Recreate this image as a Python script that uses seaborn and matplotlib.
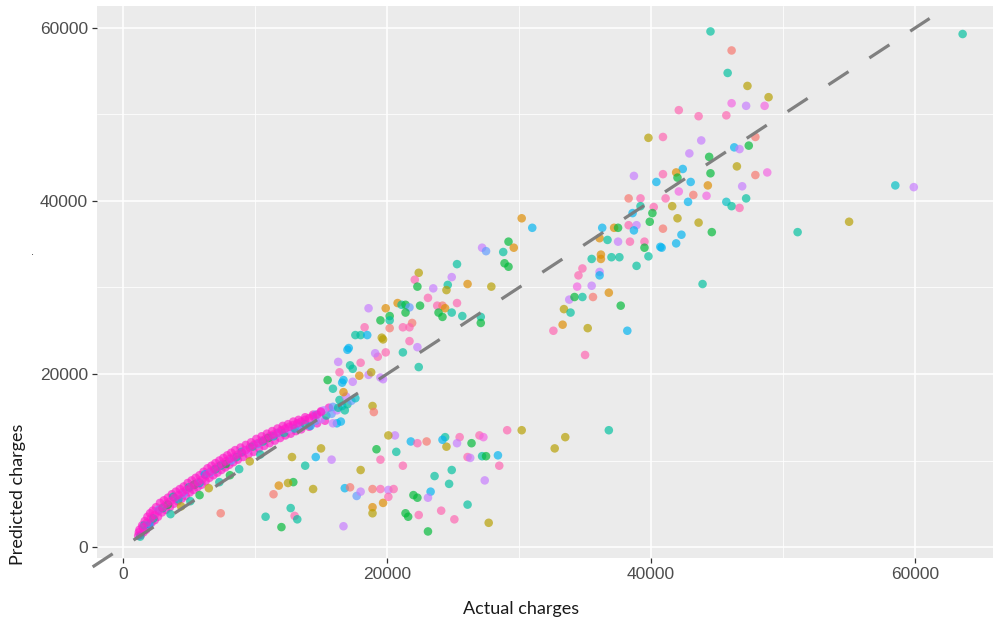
import pandas as pd
import matplotlib
matplotlib.use("Agg")
import matplotlib.pyplot as plt
import seaborn as sns

# --- data (actual vs predicted charges) ---

# dense band, mixed colours
band_mix_actual = [1300, 1600, 2000, 2300, 2700, 3000, 3400, 3800, 4200, 4600,
                   5000, 5400, 5800, 6200, 6600, 7000, 7400, 7800, 8200, 8600,
                   9000, 9400, 9800, 10200, 10600, 11000, 11400, 11800, 12200, 12600,
                   13000, 13400, 13800, 14200, 14600, 15000, 15400, 15800, 16200, 16600,
                   17000, 17300, 16400, 16900, 17600, 15900, 15200, 14600,
                   3600, 4400, 5100, 5800, 6500, 7300, 8100, 8800, 9600, 10400]
band_mix_predicted = [1200, 2500, 2600, 3300, 4300, 4500, 4900, 5800, 5500, 6200,
                      6900, 7200, 7400, 8400, 8600, 9000, 9400, 9600, 10000, 10400,
                      11000, 11200, 11600, 11900, 12200, 12600, 12800, 13200, 13200, 13600,
                      13700, 14000, 14200, 14000, 14600, 14800, 15200, 15400, 15800, 16300,
                      16500, 16900, 17000, 17400, 17200, 16200, 15800, 15300,
                      3800, 4700, 5300, 6000, 6800, 7500, 8300, 9000, 9900, 10700]
band_mix_group = [5, 6, 7, 5, 8, 5, 4, 5, 6, 8,
                  5, 4, 6, 7, 8, 5, 5, 4, 8, 5,
                  6, 9, 5, 8, 5, 4, 6, 8, 5, 9,
                  6, 8, 5, 7, 8, 9, 5, 8, 9, 7,
                  5, 8, 5, 9, 6, 8, 9, 8,
                  5, 2, 5, 4, 2, 5, 4, 5, 2, 5]

# dense band, hot pink: upper / lower edges
band_pink_actual = [1150, 1250, 1350, 1450, 1550, 1650, 1750, 1850, 1950, 2050,
                    2150, 2250, 2400, 2500, 2650, 2800, 2950, 3100, 3250, 3400,
                    3550, 3700, 3850, 4000, 4150, 4300, 4450, 4600, 4750, 4900,
                    5050, 5200, 5350, 5500, 5650, 5800, 5950, 6100, 6250, 6400,
                    6550, 6700, 6850, 7000, 7150, 7300, 7450, 7600, 7750, 7900,
                    8050, 8200, 8350, 8500, 8700, 8900, 9100, 9300, 9500, 9700,
                    9900, 10100, 10300, 10500, 10700, 10900, 11100, 11300, 11500, 11700,
                    11900, 12100, 12300, 12500, 12700, 12900, 13100, 13300, 13500, 13800,
                    14100, 14400, 14700, 15000, 15300, 15600]
band_pink_predicted = [1300, 2000, 1400, 2500, 1700, 3000, 2000, 3500, 2400, 3900,
                       2800, 4200, 3100, 4600, 3500, 5100, 4000, 5400, 4300, 5700,
                       4600, 6100, 5000, 6400, 5300, 6700, 5600, 7000, 5900, 7400,
                       6300, 7700, 6600, 8000, 6900, 8300, 7200, 8700, 7600, 9100,
                       8000, 9400, 8300, 9700, 8600, 10000, 8900, 10300, 9200, 10600,
                       9500, 10900, 9800, 11200, 10100, 11500, 10400, 11800, 10700, 12100,
                       11000, 12500, 11400, 12800, 11700, 13100, 12000, 13400, 12300, 13700,
                       12600, 14000, 12900, 14200, 13100, 14500, 13400, 14700, 13600, 15000,
                       13900, 15300, 14300, 15700, 14600, 16100]

# dense band, hot pink: centre row
band_core_actual = [1200, 1500, 1800, 2100, 2400, 2700, 3000, 3300, 3600, 3900,
                    4200, 4500, 4800, 5100, 5400, 5700, 6000, 6300, 6600, 6900,
                    7200, 7500, 7800, 8100, 8400, 8700, 9000, 9300, 9600, 9900,
                    10200, 10500, 10800, 11100, 11400, 11700, 12000, 12300, 12600, 12900,
                    13200, 13500, 13800, 14100, 14400, 14700, 15000]
band_core_predicted = [1700, 2300, 2800, 3300, 3700, 4200, 4600, 5000, 5300, 5700,
                       6000, 6300, 6600, 6900, 7200, 7500, 7800, 8300, 8700, 9000,
                       9300, 9600, 9900, 10200, 10400, 10700, 10900, 11200, 11500, 11800,
                       12000, 12300, 12500, 12800, 13000, 13200, 13500, 13700, 13900, 14100,
                       14300, 14500, 14700, 14900, 15100, 15300, 15600]

# scattered points
spread_actual = [44500, 46100, 45800, 47300, 48900, 46100, 47200, 48600, 42100, 43600,
                 45700, 63600, 58500, 59900, 51100, 55000, 43900, 40900, 43800, 42900,
                 46300, 46700, 47400, 44400, 44500, 46500, 42400, 41900, 40900, 43000,
                 44300, 47900, 48800, 46900, 47200, 45700, 46100, 46700, 43200, 44200,
                 42100, 41100, 41600, 42800, 42000, 43600, 44600, 40900, 42300, 41900,
                 40800, 39800, 47900, 38700, 40400, 42000, 38300, 39200, 40200, 38600,
                 39200, 40100, 39900, 38300, 38900, 38700, 40700, 39800, 39500, 39500,
                 36300, 37200, 37500, 36100, 36700, 37500, 38400, 36200, 36200, 35500,
                 37000, 37600, 38900, 36100, 36100, 34800, 34500, 34400, 35500, 33800,
                 34200, 34800, 35600, 36800, 37700, 33400, 33900, 32600, 33300, 35200,
                 38200, 35000, 36800, 33500, 32700, 30200, 31000, 27200, 27500, 29200,
                 29600, 28800, 28900, 29200, 25300, 22400, 22100, 22300, 23500, 24600,
                 24500, 24900, 26100, 27900, 25300, 23100, 23800, 22500, 20800, 21100,
                 21400, 21700, 19900, 24200, 24400, 24900, 23900, 24200, 20200, 20200,
                 21400, 25700, 27100, 27100, 21900, 21700, 21200, 20200, 19700, 21700,
                 21200, 19900, 22300, 22400, 19700, 18600, 19500, 18300, 17600, 18000,
                 18500, 19600, 19300, 17100, 17000, 19100, 16300, 16400, 17200, 17400,
                 18000, 17900, 18600, 18800, 16700, 15500, 15900, 16700, 17400, 19500,
                 20600, 21800, 23000, 24400, 25500, 27000, 27300, 26400, 25300, 24500,
                 27200, 28400, 28500, 26100, 23600, 24700, 24900, 27400, 21200, 20700,
                 22000, 23300, 18900, 19000, 20100, 22300, 24200, 29100, 30200, 19200,
                 19500, 18000, 26300, 27500, 22300, 23100, 26100, 18900, 18900, 19700,
                 16800, 17200, 17700, 18000, 18900, 19500, 20100, 20500, 20100, 21400,
                 21600, 22400, 24100, 25100, 23100, 27700, 16700, 15000, 14600, 13800,
                 15800, 12800, 14400, 12900, 12500, 11800, 11400, 12700, 13000, 13200,
                 10800, 12000, 7400, 16200, 16500, 16300, 16800, 16600, 15900]
spread_predicted = [59600, 57400, 54800, 53300, 52000, 51300, 51000, 51000, 50500, 49800,
                    49900, 59300, 41800, 41600, 36400, 37600, 30400, 47400, 47000, 45500,
                    46200, 46000, 46400, 45100, 43200, 44000, 43700, 43300, 43100, 42200,
                    41800, 43000, 43300, 41700, 40300, 39900, 39400, 39200, 40700, 40600,
                    41100, 40300, 39400, 39900, 38000, 37500, 36400, 36800, 36100, 35100,
                    34600, 47300, 47400, 42900, 42200, 42700, 40300, 40300, 39300, 38600,
                    39400, 38600, 37600, 37200, 37200, 36600, 34700, 33600, 35300, 34600,
                    36900, 36900, 36900, 35700, 35500, 35300, 35300, 33800, 33300, 33300,
                    33500, 33500, 32500, 31800, 31400, 32200, 31400, 30100, 30200, 28600,
                    28900, 28900, 28900, 29400, 27900, 27500, 27100, 25000, 25700, 25300,
                    25000, 22200, 13500, 12700, 11400, 38000, 36900, 34600, 34200, 35300,
                    34600, 34100, 32800, 32400, 32700, 31700, 30900, 30100, 29900, 30300,
                    29700, 31200, 30400, 30100, 28200, 28800, 27900, 27900, 28200, 28000,
                    28000, 27700, 27600, 27900, 27600, 27100, 27100, 26600, 26700, 26200,
                    27100, 26700, 26600, 25900, 25900, 25400, 25400, 25300, 24000, 23800,
                    22500, 22500, 23100, 20800, 19400, 27600, 26200, 25400, 24500, 24500,
                    24500, 24200, 22000, 23000, 22800, 22400, 21400, 20200, 21000, 20600,
                    21300, 19800, 19900, 20200, 19300, 19300, 18300, 17900, 19100, 19600,
                    12900, 12200, 12200, 12700, 12700, 12900, 12700, 12000, 12000, 11600,
                    10500, 10600, 9400, 10400, 8200, 7300, 8900, 7700, 9400, 11000,
                    6000, 6400, 16300, 15600, 12900, 12000, 12400, 13500, 13500, 11300,
                    10100, 8900, 10300, 10500, 5700, 5700, 4900, 4600, 3900, 5100,
                    6800, 6900, 5900, 6400, 6700, 6700, 6600, 6700, 5800, 3900,
                    3500, 3700, 4200, 3200, 1800, 2800, 2400, 11400, 10400, 9400,
                    10100, 10400, 6700, 7500, 7400, 7100, 6100, 4500, 3600, 3200,
                    3500, 2300, 3900, 14300, 14500, 16100, 15800, 19000, 14300]
spread_group = [5, 0, 5, 2, 2, 10, 9, 10, 11, 11,
                11, 5, 6, 9, 5, 2, 5, 11, 9, 9,
                7, 9, 4, 4, 4, 2, 7, 1, 11, 7,
                1, 0, 10, 9, 5, 6, 5, 11, 0, 10,
                10, 11, 2, 7, 2, 2, 4, 0, 7, 7,
                7, 2, 0, 9, 7, 4, 0, 11, 11, 7,
                5, 4, 4, 11, 9, 7, 7, 5, 11, 4,
                7, 1, 4, 1, 5, 9, 11, 1, 1, 5,
                5, 5, 5, 9, 7, 11, 11, 10, 9, 9,
                4, 5, 0, 1, 4, 2, 5, 11, 1, 2,
                7, 11, 5, 2, 2, 1, 7, 9, 8, 4,
                1, 5, 4, 4, 5, 2, 11, 4, 9, 5,
                2, 9, 1, 2, 11, 11, 11, 4, 1, 5,
                4, 8, 1, 0, 1, 5, 4, 4, 4, 5,
                4, 5, 5, 4, 0, 11, 11, 0, 2, 11,
                5, 11, 9, 5, 9, 9, 4, 11, 5, 5,
                7, 2, 11, 7, 7, 9, 9, 11, 5, 5,
                11, 1, 9, 2, 7, 4, 5, 1, 9, 9,
                9, 7, 0, 5, 11, 11, 10, 4, 9, 2,
                5, 7, 11, 11, 5, 5, 5, 9, 11, 5,
                4, 7, 2, 0, 2, 11, 7, 11, 2, 4,
                11, 2, 9, 4, 4, 9, 5, 1, 2, 1,
                7, 0, 8, 9, 0, 11, 9, 11, 11, 4,
                4, 11, 11, 11, 4, 2, 9, 2, 7, 5,
                9, 2, 2, 4, 2, 1, 0, 5, 11, 5,
                5, 4, 0, 7, 7, 5, 5, 7, 9]

# identity reference line
ref_line = [-2300, 61100]

# ggplot-like hue colours, last one is the hot pink of the band
hue_colors = ['#F8766D', '#DE8C00', '#B79F00', '#7CAE00', '#00BA38', '#00C19F',
              '#00BFC4', '#00B4F0', '#619CFF', '#C77CFF', '#F564E3', '#FF64B0',
              '#FF1DCB']

# drawing order: pink edges, mixed colours on top of them, pink core, scatter
df = pd.concat([
    pd.DataFrame({'actual': band_pink_actual, 'predicted': band_pink_predicted,
                  'group': [12] * len(band_pink_actual)}),
    pd.DataFrame({'actual': band_mix_actual, 'predicted': band_mix_predicted,
                  'group': band_mix_group}),
    pd.DataFrame({'actual': band_core_actual, 'predicted': band_core_predicted,
                  'group': [12] * len(band_core_actual)}),
    pd.DataFrame({'actual': spread_actual, 'predicted': spread_predicted,
                  'group': spread_group}),
], ignore_index=True)

# --- style ---
sns.set_style("darkgrid", {"axes.facecolor": "#EBEBEB", "grid.color": "white"})
plt.rcParams['font.family'] = ['Liberation Sans', 'DejaVu Sans']

W, H = 993, 624
fig = plt.figure(figsize=(W / 100, H / 100), dpi=100)
ax = fig.add_axes([97 / W, (H - 558) / H, (W - 97) / W, (558 - 6) / H])

palette = {i: c for i, c in enumerate(hue_colors)}
sns.scatterplot(data=df, x='actual', y='predicted', hue='group', palette=palette,
                s=38, alpha=0.68, linewidth=0, legend=False, ax=ax, zorder=3)

ax.plot(ref_line, ref_line, color='#7A7A7A', lw=2.3, linestyle=(0, (7.5, 7.8)),
        alpha=0.95, zorder=4, clip_on=False, solid_capstyle='butt')

ax.set_xlim(-1970, 65900)
ax.set_ylim(-1270, 62540)
ax.set_xticks([0, 20000, 40000, 60000])
ax.set_yticks([0, 20000, 40000, 60000])
ax.set_xticks([10000, 30000, 50000], minor=True)
ax.set_yticks([10000, 30000, 50000], minor=True)
ax.grid(which='major', color='white', lw=1.1)
ax.grid(which='minor', color='white', lw=0.55)
for s in ax.spines.values():
    s.set_visible(False)
ax.tick_params(which='major', bottom=True, left=True, length=3.5, width=0.9,
               color='#333333', pad=3, labelsize=12.5, labelcolor='#4D4D4D')
ax.tick_params(which='minor', bottom=False, left=False)
ax.set_xlabel('')
ax.set_ylabel('')

fig.text(521 / W, 1 - 609 / H, 'Actual charges', ha='center', va='center',
         fontsize=13, color='#1A1A1A', family=['Lato', 'DejaVu Sans'])
fig.text(18 / W, 1 - 494 / H, 'Predicted charges', ha='center', va='center',
         rotation=90, fontsize=13, color='#1A1A1A', family=['Lato', 'DejaVu Sans'])
fig.text(33 / W, 1 - 252 / H, '.', ha='center', va='center', fontsize=8,
         color='#333333')

fig.savefig('out.png', dpi=100)
